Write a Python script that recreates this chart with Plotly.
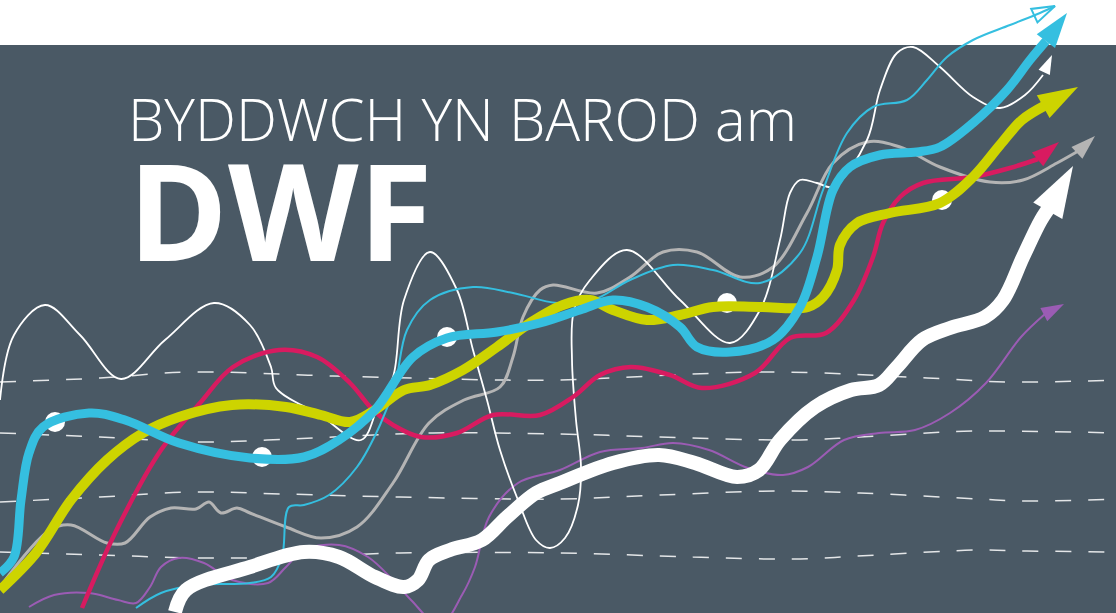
import plotly.graph_objects as go

W, H = 1116, 613

# ---- data (pixel-space coordinates) ----
dash1_x = [0, 100, 190, 333, 500, 560, 770, 927, 1010, 1116]
dash1_y = [382, 378, 372, 376, 380, 380, 372, 378, 382, 380]
dash2_x = [0, 100, 200, 267, 333, 433, 560, 660, 793, 860, 927, 977, 1116]
dash2_y = [433, 437, 442, 440, 437, 433, 434, 437, 440, 437, 433, 431, 433]
dash3_x = [0, 100, 193, 283, 400, 560, 660, 777, 860, 960, 1027, 1116]
dash3_y = [502, 497, 492, 494, 497, 499, 495, 491, 493, 498, 501, 499]
dash4_x = [0, 100, 200, 300, 400, 560, 693, 793, 877, 977, 1027, 1116]
dash4_y = [552, 555, 558, 557, 553, 553, 557, 559, 555, 550, 551, 552]

purple_x = [29, 54, 89, 118, 136, 150, 161, 179, 204, 232, 268, 286, 304, 339, 368, 393, 411, 440, 462,
            475, 489, 518, 560, 600, 642, 673, 709, 748, 783, 808, 844, 879, 915, 950, 986, 1021, 1045, 1064]
purple_y = [607, 595, 593, 600, 603, 587, 567, 558, 563, 580, 583, 567, 550, 545, 557, 580, 600, 625, 595,
            567, 517, 483, 470, 452, 448, 443, 450, 468, 475, 467, 440, 433, 430, 413, 383, 337, 314, 304]

grey_x = [0, 50, 71, 107, 125, 150, 171, 196, 209, 221, 237, 250, 286, 321, 357, 393, 429, 464, 500, 513,
          523, 540, 553, 597, 630, 663, 697, 740, 773, 807, 833, 867, 900, 940, 990, 1023, 1057, 1080, 1095]
grey_y = [587, 530, 525, 543, 543, 517, 508, 509, 502, 513, 508, 513, 527, 538, 527, 483, 423, 400, 387, 357,
          317, 290, 285, 293, 277, 252, 252, 277, 267, 213, 163, 142, 147, 167, 182, 180, 163, 150, 136]

wthin_x = [0, 14, 45, 80, 121, 165, 214, 250, 271, 276, 320, 361, 380, 393, 404, 430, 457, 473, 487, 500,
           518, 536, 550, 565, 578, 581, 576, 572, 574, 590, 627, 680, 730, 760, 780, 790, 800, 817, 833,
           867, 880, 897, 913, 940, 973, 1000, 1025, 1043, 1052]
wthin_y = [400, 335, 305, 335, 379, 340, 303, 325, 367, 388, 415, 440, 400, 377, 300, 252, 290, 350, 400, 450,
           500, 540, 548, 538, 505, 467, 420, 360, 310, 280, 250, 300, 343, 310, 240, 193, 180, 183, 187,
           140, 90, 53, 47, 67, 97, 108, 95, 75, 55]

magenta_x = [82, 118, 161, 200, 233, 279, 317, 350, 373, 393, 421, 457, 493, 540, 573, 600, 631, 670, 702,
             755, 790, 826, 854, 873, 883, 900, 923, 973, 1010, 1038, 1059]
magenta_y = [608, 527, 450, 403, 367, 350, 357, 383, 410, 425, 437, 433, 415, 415, 397, 375, 367, 375, 388,
             373, 338, 333, 300, 257, 223, 197, 183, 177, 168, 159, 142]

cthin_x = [136, 161, 196, 250, 271, 282, 289, 304, 329, 357, 380, 395, 407, 430, 473, 513, 557, 593, 630,
           673, 713, 760, 800, 823, 847, 873, 907, 927, 947, 973, 1010, 1040, 1055]
cthin_y = [608, 593, 585, 583, 577, 557, 507, 505, 495, 467, 425, 385, 330, 300, 287, 293, 303, 300, 280,
           265, 270, 283, 253, 190, 133, 107, 100, 80, 57, 40, 25, 13, 6]

yellow_x = [0, 36, 71, 107, 143, 179, 232, 286, 321, 350, 375, 404, 430, 463, 497, 530, 563, 590, 613, 647,
            680, 713, 760, 808, 823, 837, 840, 857, 890, 940, 973, 1000, 1022, 1046, 1078]
yellow_y = [590, 553, 500, 460, 433, 417, 405, 407, 415, 422, 410, 390, 385, 370, 347, 323, 305, 300, 310, 320,
            315, 307, 307, 307, 297, 270, 245, 223, 213, 203, 177, 145, 120, 105, 87]

cthick_x = [0, 14, 21, 29, 43, 89, 125, 179, 250, 304, 339, 375, 413, 447, 497, 540, 580, 613, 647, 680,
            697, 730, 773, 800, 817, 833, 850, 880, 917, 940, 973, 1007, 1030, 1046, 1067]
cthick_y = [573, 557, 500, 453, 427, 413, 420, 443, 458, 457, 440, 410, 357, 338, 332, 323, 310, 300, 307, 327,
            347, 352, 340, 307, 257, 190, 167, 155, 152, 147, 123, 90, 60, 41, 13]

wthick_x = [175, 186, 250, 304, 339, 375, 404, 418, 429, 450, 482, 507, 536, 560, 613, 659, 695, 737, 759,
            780, 815, 851, 879, 897, 922, 950, 985, 1003, 1023, 1041, 1051, 1073]
wthick_y = [612, 590, 567, 552, 557, 577, 587, 580, 560, 550, 540, 517, 493, 483, 463, 455, 463, 477, 470,
            440, 407, 390, 385, 367, 340, 328, 317, 300, 257, 220, 205, 166]

dots_x = [55, 262, 447, 727, 942]
dots_y = [422, 457, 337, 303, 200]

title_line1 = "BYDDWCH YN BAROD am"
title_line2 = "DWF"

BG = "#4a5965"
CYAN = "#35bfe0"
YELLOW = "#cdd400"
MAGENTA = "#d81b60"
GREY = "#b4b4b4"
PURPLE = "#9b5cb4"
WHITE = "#ffffff"

fig = go.Figure()

# dashed guide lines
for dx, dy in [(dash1_x, dash1_y), (dash2_x, dash2_y), (dash3_x, dash3_y), (dash4_x, dash4_y)]:
    fig.add_trace(go.Scatter(x=dx, y=dy, mode="lines",
                             line=dict(color="rgba(255,255,255,0.85)", width=1.5, dash="16px,17px",
                                       shape="spline", smoothing=1.0),
                             hoverinfo="skip"))

# white dots (below the lines)
fig.add_trace(go.Scatter(x=dots_x, y=dots_y, mode="markers",
                         marker=dict(color=WHITE, size=20, opacity=1, line=dict(width=0)), hoverinfo="skip"))


def curve(xs, ys, color, width, head_size, head_symbol="arrow", smoothing=1.0, head_line=0, line_to_tip=False):
    n = len(xs) if line_to_tip else len(xs) - 1
    fig.add_trace(go.Scatter(x=xs[:n], y=ys[:n], mode="lines",
                             line=dict(color=color, width=width, shape="spline", smoothing=smoothing),
                             hoverinfo="skip"))
    sizes = [0] * (len(xs) - 1) + [head_size]
    fig.add_trace(go.Scatter(x=xs, y=ys, mode="markers",
                             marker=dict(symbol=head_symbol, size=sizes, color=color, angleref="previous",
                                         opacity=1, line=dict(width=head_line, color=color)),
                             hoverinfo="skip"))


curve(purple_x, purple_y, PURPLE, 2, 24)
curve(grey_x, grey_y, GREY, 3, 26)
curve(wthin_x, wthin_y, WHITE, 1.8, 20)
curve(magenta_x, magenta_y, MAGENTA, 4.5, 29)
curve(cthin_x, cthin_y, CYAN, 2, 24, head_symbol="arrow-open", head_line=2, line_to_tip=True)
curve(yellow_x, yellow_y, YELLOW, 10, 42)
curve(cthick_x, cthick_y, CYAN, 9, 37)
curve(wthick_x, wthick_y, WHITE, 14, 54)

title_text = ("<span style='font-size:58px;font-weight:300'>" + title_line1 + "</span><br>"
              "<span style='font-size:135px;font-weight:700'>" + title_line2 + "</span>")
fig.add_annotation(x=0.113, y=0.505, xref="paper", yref="paper", xanchor="left", yanchor="bottom",
                   align="left", text=title_text, showarrow=False,
                   font=dict(family="Open Sans", size=92.3, color=WHITE))

fig.update_layout(
    width=W, height=H,
    margin=dict(l=0, r=0, t=0, b=0),
    paper_bgcolor="white", plot_bgcolor="white",
    showlegend=False,
    xaxis=dict(range=[0, W], visible=False, fixedrange=True),
    yaxis=dict(range=[H, 0], visible=False, fixedrange=True),
    shapes=[dict(type="rect", xref="x", yref="y", x0=0, x1=W, y0=45, y1=H,
                 fillcolor=BG, line=dict(width=0), layer="below")],
)

fig.write_html("out.html", config={"displayModeBar": False},
               post_script="document.body.style.margin='0';document.body.style.overflow='hidden';")
